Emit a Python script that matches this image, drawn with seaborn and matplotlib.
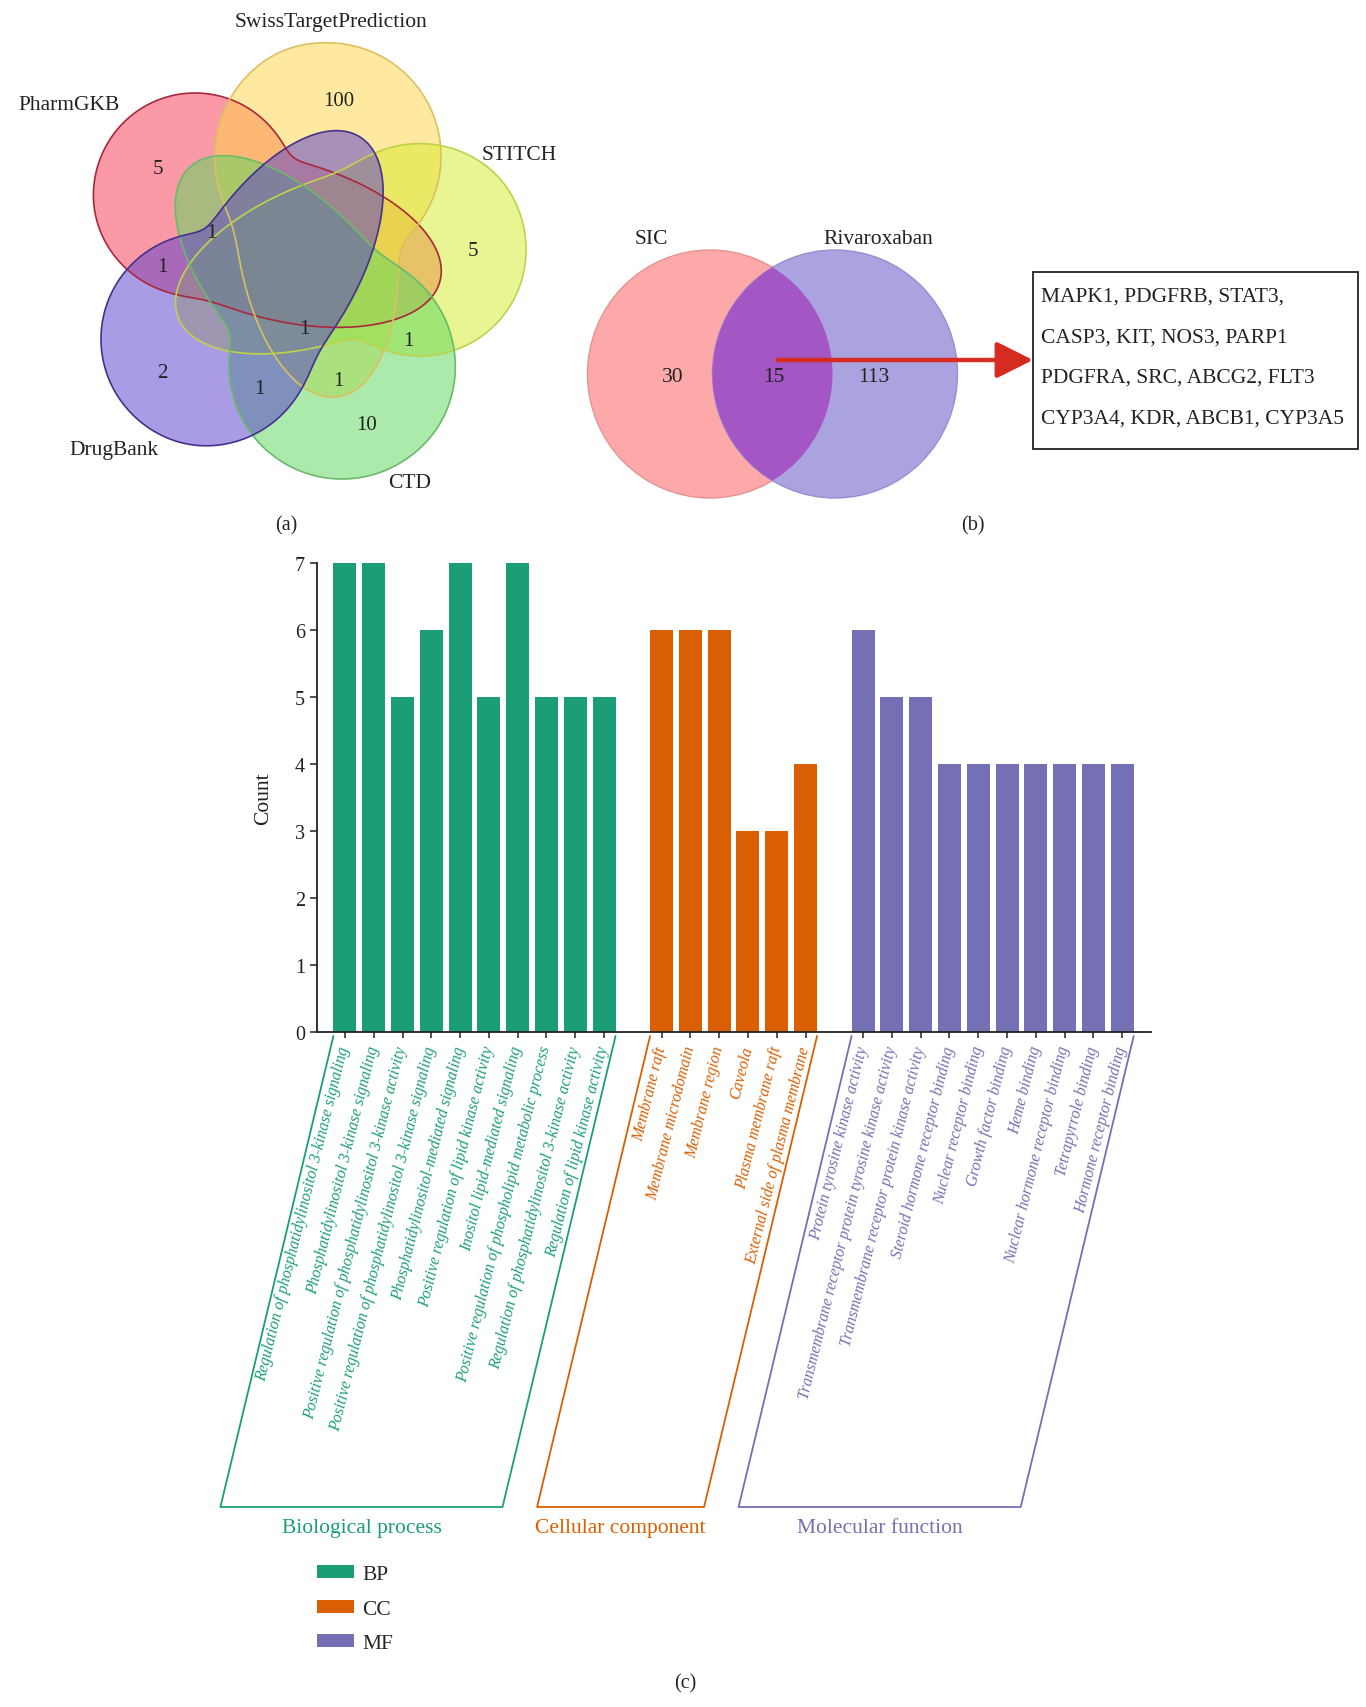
import numpy as np
import pandas as pd
import seaborn as sns
import matplotlib.pyplot as plt
from matplotlib.patches import Polygon, Ellipse, Rectangle

# ---- data ----
venn5_sets = ['PharmGKB', 'SwissTargetPrediction', 'STITCH', 'CTD', 'DrugBank']
venn5_counts = [5, 100, 5, 1, 1, 2, 1, 1, 1, 1, 10]

sic_only = 30
shared = 15
riva_only = 113
shared_genes = ['MAPK1, PDGFRB, STAT3,', 'CASP3, KIT, NOS3, PARP1',
                'PDGFRA, SRC, ABCG2, FLT3', 'CYP3A4, KDR, ABCB1, CYP3A5']

bp_terms = ['Regulation of phosphatidylinositol 3-kinase signaling',
            'Phosphatidylinositol 3-kinase signaling',
            'Positive regulation of phosphatidylinositol 3-kinase activity',
            'Positive regulation of phosphatidylinositol 3-kinase signaling',
            'Phosphatidylinositol-mediated signaling',
            'Positive regulation of lipid kinase activity',
            'Inositol lipid-mediated signaling',
            'Positive regulation of phospholipid metabolic process',
            'Regulation of phosphatidylinositol 3-kinase activity',
            'Regulation of lipid kinase activity']
bp_counts = [7, 7, 5, 6, 7, 5, 7, 5, 5, 5]
cc_terms = ['Membrane raft', 'Membrane microdomain', 'Membrane region', 'Caveola',
            'Plasma membrane raft', 'External side of plasma membrane']
cc_counts = [6, 6, 6, 3, 3, 4]
mf_terms = ['Protein tyrosine kinase activity',
            'Transmembrane receptor protein tyrosine kinase activity',
            'Transmembrane receptor protein kinase activity',
            'Steroid hormone receptor binding', 'Nuclear receptor binding',
            'Growth factor binding', 'Heme binding',
            'Nuclear hormone receptor binding', 'Tetrapyrrole binding',
            'Hormone receptor binding']
mf_counts = [6, 5, 5, 4, 4, 4, 4, 4, 4, 4]
groups = ['BP', 'CC', 'MF']
group_names = ['Biological process', 'Cellular component', 'Molecular function']

sns.set_style('ticks')
plt.rcParams['font.family'] = ['Liberation Serif', 'DejaVu Serif']

W, H = 1366, 1708
fig = plt.figure(figsize=(W / 100, H / 100), dpi=100)

# overlay axes in pixel coords for venn panels
av = fig.add_axes([0, 0, 1, 1])
av.set_xlim(0, W)
av.set_ylim(H, 0)
av.axis('off')


def petal(C, R, tip, a, b, turn=-5, k=14, n=1440):
    # smooth union of a circle and an ellipse lobe ending at tip
    C = np.array(C, float)
    tip = np.array(tip, float)
    d = tip - C
    th = np.arctan2(d[1], d[0]) + np.radians(turn)
    u = np.array([np.cos(th), np.sin(th)])
    v = np.array([-u[1], u[0]])
    E0 = tip - a * u
    p = (E0 + C) / 2
    phi = np.linspace(0, 2 * np.pi, n, endpoint=False)
    dirs = np.c_[np.cos(phi), np.sin(phi)]
    w = p - C
    bb = dirs @ w
    tc = -bb + np.sqrt(bb ** 2 - (w @ w - R ** 2))
    we = np.array([(p - E0) @ u / a, (p - E0) @ v / b])
    de = np.c_[dirs @ u / a, dirs @ v / b]
    A = (de ** 2).sum(1)
    B = de @ we
    te = (-B + np.sqrt(B ** 2 - A * (we @ we - 1))) / A
    r = (tc ** k + te ** k) ** (1 / k)
    return p + dirs * r[:, None]


# (circle center, radius, lobe tip, fill, edge)
shapes = [
    ((195, 195), 101, (440, 282), '#f83d55', '#a8283c'),
    ((328, 157), 113, (337, 398), '#ffd54a', '#dcc060'),
    ((420, 251), 106, (178, 318), '#d6ea2e', '#c0d24c'),
    ((342, 367), 113, (190, 168), '#5fd85f', '#6aba6a'),
    ((207, 340), 106, (360, 138), '#5a3fcc', '#47308c'),
]
polys = [petal(c, R, t, 165, 80) for c, R, t, _, _ in shapes]
for pts, s in zip(polys, shapes):
    av.add_patch(Polygon(pts, closed=True, facecolor=s[3], alpha=0.52, edgecolor='none'))
for pts, s in zip(polys, shapes):
    av.add_patch(Polygon(pts, closed=True, facecolor='none', edgecolor=s[4], lw=1.2))

label_pos = [(69, 105), (331, 22), (519, 155), (410, 484), (114, 450)]
for name, (x, y) in zip(venn5_sets, label_pos):
    av.text(x, y, name, ha='center', va='center', fontsize=15.5, color='#222222')

count_pos = [(158, 169), (339, 102), (473, 252), (211, 233), (162, 268), (162, 374),
             (259, 390), (304, 330), (408, 341), (338, 382), (367, 425)]
for v, (x, y) in zip(venn5_counts, count_pos):
    av.text(x, y, str(v), ha='center', va='center', fontsize=15, color='#222222')

av.text(286, 526, '(a)', ha='center', va='center', fontsize=14.5, color='#222222')
av.text(973, 526, '(b)', ha='center', va='center', fontsize=14.5, color='#222222')

# venn (b)
e_sic = Ellipse((710, 375), 245, 248, facecolor='#fda9a9', edgecolor='#e79292', lw=1)
e_riv = Ellipse((835, 375), 245, 248, facecolor='#aba3e0', edgecolor='#968ed0', lw=1)
av.add_patch(e_sic)
av.add_patch(e_riv)
e_ov = Ellipse((835, 375), 245, 248, facecolor='#a456c4', edgecolor='none')
av.add_patch(e_ov)
e_ov.set_clip_path(e_sic)
av.text(651, 239, 'SIC', ha='center', va='center', fontsize=15.5, color='#222222')
av.text(878, 239, 'Rivaroxaban', ha='center', va='center', fontsize=15.5, color='#222222')
for v, x in zip([sic_only, shared, riva_only], [673, 774, 874]):
    av.text(x, 377, str(v), ha='center', va='center', fontsize=15.5, color='#222222')

av.add_patch(Rectangle((1033, 273), 325, 177, facecolor='white', edgecolor='#222222', lw=1.3))
for i, line in enumerate(shared_genes):
    av.text(1041, 297 + i * 40.7, line, ha='left', va='center', fontsize=15.5, color='#222222')
av.annotate('', xy=(1033, 361), xytext=(778, 361),
            arrowprops=dict(arrowstyle='-|>,head_length=0.9,head_width=0.45',
                            lw=3.2, color='#d62c1f', mutation_scale=25,
                            shrinkA=0, shrinkB=0))

av.text(685, 1684, '(c)', ha='center', va='center', fontsize=14.5, color='#222222')

# ---- GO bar chart ----
palette = dict(zip(groups, sns.color_palette('Dark2', 3)))
term_lists = [bp_terms, cc_terms, mf_terms]
count_lists = [bp_counts, cc_counts, mf_counts]

rows = []
pos = 0
spans = []
for g, terms, counts in zip(groups, term_lists, count_lists):
    start = pos
    for t, c in zip(terms, counts):
        rows.append({'pos': pos, 'term': t, 'Count': c, 'group': g})
        pos += 1
    spans.append((start, pos - 1))
    pos += 1  # empty slot between categories
df = pd.DataFrame(rows)

ax = fig.add_axes([317 / W, 1 - 1033 / H, 834 / W, 469 / H])
ax.set_facecolor('none')
sns.barplot(data=df, x='pos', y='Count', hue='group', palette=palette,
            native_scale=True, dodge=False, width=0.8, saturation=1,
            edgecolor='none', ax=ax)

handles, labels = ax.get_legend_handles_labels()
if ax.legend_ is not None:
    ax.legend_.remove()

ax.set_xlim(df['pos'].min() - 0.97, df['pos'].max() + 1.0)
ax.set_ylim(0, 7)
ax.set_yticks(range(8))
ax.set_xticks(df['pos'])
ax.set_xticklabels(df['term'], rotation=76, ha='right', va='center',
                   rotation_mode='anchor', fontsize=11.5, fontstyle='italic')
for lab, g in zip(ax.get_xticklabels(), df['group']):
    lab.set_color(palette[g])
ax.tick_params(axis='x', length=4, width=1.1, pad=6, color='#222222')
ax.tick_params(axis='y', length=5, width=1.1, labelsize=14.5, color='#222222', labelcolor='#222222')
ax.set_xlabel('')
ax.set_ylabel('Count', fontsize=15.5, color='#222222')
ax.yaxis.set_label_coords(-0.053, 0.5)
sns.despine(ax=ax)
for sp in ['left', 'bottom']:
    ax.spines[sp].set_linewidth(1.3)
    ax.spines[sp].set_color('#222222')

# slanted brackets under each category
o = ax.transData.transform((0, 0))
sx = ax.transData.transform((1, 0))[0] - o[0]
sy = ax.transData.transform((0, 1))[1] - o[1]
top_y = -4 / sy
bot_y = -475 / sy
shift = -113 / sx
for (p0, p1), g, name in zip(spans, groups, group_names):
    xl, xr = p0 - 0.4, p1 + 0.4
    ax.plot([xl, xl + shift, xr + shift, xr], [top_y, bot_y, bot_y, top_y],
            color=palette[g], lw=1.3, clip_on=False)
    ax.text((p0 + p1) / 2 + shift, bot_y - 21 / sy, name, ha='center', va='center',
            fontsize=15.5, color=palette[g])

fig.legend(handles, labels, loc='upper left', bbox_to_anchor=(317 / W, 1 - 1566 / H),
           frameon=False, fontsize=15.5, handlelength=1.7, handleheight=0.55,
           labelspacing=0.72, handletextpad=0.4, borderpad=0, borderaxespad=0)

fig.savefig('out.png', dpi=100)
